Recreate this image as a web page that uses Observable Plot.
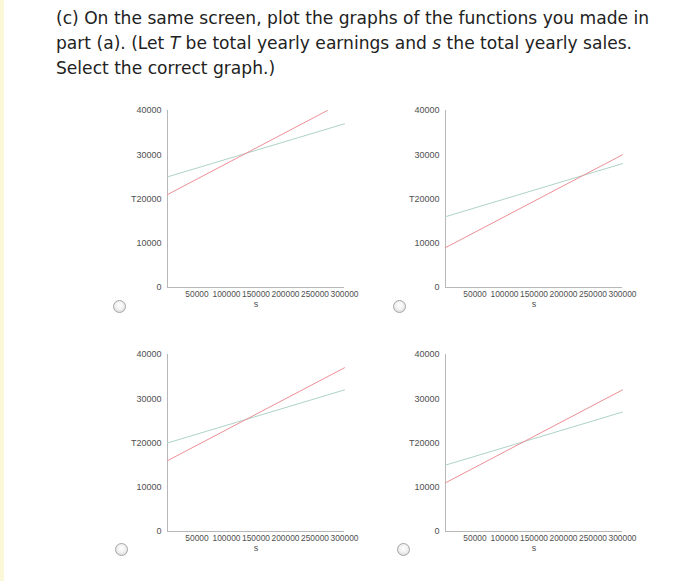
<!DOCTYPE html>
<html>
<head>
<meta charset="utf-8">
<script src="https://cdn.jsdelivr.net/npm/d3@7"></script>
<script src="https://cdn.jsdelivr.net/npm/@observablehq/plot@0.6"></script>
<style>
  html, body { margin: 0; padding: 0; background: #fff; }
  body { width: 700px; height: 581px; position: relative; overflow: hidden; }
  #band { position: absolute; left: 0; top: 0; width: 4px; height: 581px; background: #fbf8d8; }
  #q { position: absolute; left: 56px; top: 6px; font-family: "DejaVu Sans", Verdana, sans-serif;
       font-size: 17.1px; line-height: 25px; color: #222; white-space: nowrap; }
  .radio { position: absolute; width: 11px; height: 11px; border-radius: 50%;
           border: 1px solid #a5a5a5; background: radial-gradient(circle at 50% 40%, #ffffff 0%, #f2f2f2 45%, #d2d2d2 100%); }
</style>
</head>
<body>
<div id="band"></div>
<div id="q">(c) On the same screen, plot the graphs of the functions you made in<br>part (a). (Let <i>T</i> be total yearly earnings and <i>s</i> the total yearly sales.<br>Select the correct graph.)</div>
<div id="charts"></div>
<script>
// Data: each option shows two straight lines T(s)
const options = ["A", "B", "C", "D"];
const sStart = [0, 0, 0, 0];
const line1StartT = [25000, 16000, 20000, 15000];
const line1EndS = [300000, 300000, 300000, 300000];
const line1EndT = [37000, 28000, 32000, 27000];
const line2StartT = [21000, 9000, 16000, 11000];
const line2EndS = [271000, 300000, 300000, 300000];
const line2EndT = [40000, 30000, 37000, 32000];
const yTicks = [0, 10000, 20000, 30000, 40000];
const xTicks = [50000, 100000, 150000, 200000, 250000, 300000];
const yLabel = "T";
const xLabel = "s";

const panelPos = [[110, 100], [388, 100], [110, 344], [388, 344]];
const radioPos = [[113, 300], [393, 300], [115, 543], [397, 543]];

const labelColor = "#505050";
const axisColor = "#b8b8b8";

options.forEach((opt, i) => {
  const lines = [
    {series: "line1", s: sStart[i], T: line1StartT[i]},
    {series: "line1", s: line1EndS[i], T: line1EndT[i]},
    {series: "line2", s: sStart[i], T: line2StartT[i]},
    {series: "line2", s: line2EndS[i], T: line2EndT[i]}
  ];
  const chart = Plot.plot({
    width: 250,
    height: 215,
    marginLeft: 57,
    marginTop: 10,
    marginRight: 16,
    marginBottom: 28,
    style: {fontFamily: "'Liberation Sans', Arial, sans-serif", fontSize: "9px", color: labelColor, background: "transparent"},
    x: {domain: [0, 300000], axis: null},
    y: {domain: [0, 40000], axis: null},
    color: {domain: ["line1", "line2"], range: ["#aed3c7", "#ec9096"]},
    marks: [
      Plot.ruleX([0], {stroke: axisColor, strokeWidth: 1}),
      Plot.ruleY([0], {stroke: axisColor, strokeWidth: 1}),
      Plot.axisY({ticks: yTicks, tickSize: 0, tickPadding: 6, tickFormat: d => String(d), label: null, fill: labelColor, fontSize: 9}),
      Plot.axisX({ticks: xTicks, tickSize: 0, tickPadding: 4, tickFormat: d => String(d), label: null, fill: labelColor, fontSize: 8.4}),
      Plot.text([yLabel], {frameAnchor: "left", dx: -31, textAnchor: "end", fill: labelColor, fontSize: 9}),
      Plot.text([xLabel], {frameAnchor: "bottom", dy: 19, fill: labelColor, fontSize: 9}),
      Plot.line(lines, {x: "s", y: "T", z: "series", stroke: "series", strokeWidth: 1})
    ]
  });
  chart.style.left = panelPos[i][0] + "px";
  chart.style.top = panelPos[i][1] + "px";
  chart.style.position = "absolute";
  document.getElementById("charts").appendChild(chart);

  const r = document.createElement("div");
  r.className = "radio";
  r.style.left = radioPos[i][0] + "px";
  r.style.top = radioPos[i][1] + "px";
  document.body.appendChild(r);
});
</script>
</body>
</html>
